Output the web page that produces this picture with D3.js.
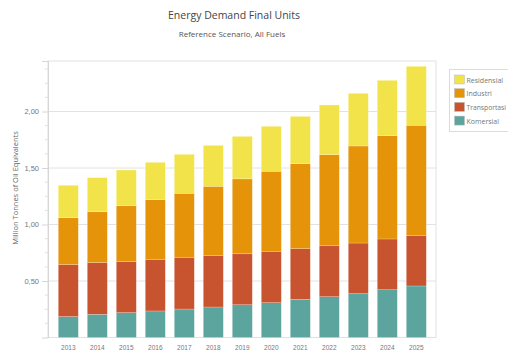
<!DOCTYPE html>
<html><head><meta charset="utf-8">
<script src="https://cdn.jsdelivr.net/npm/d3@7"></script>
<style>body{margin:0;background:#fff;} svg{display:block;font-family:"Open Sans","Noto Sans",sans-serif;}</style>
</head><body><svg id="c" width="508" height="352"></svg>
<script>
const years = ["2013","2014","2015","2016","2017","2018","2019","2020","2021","2022","2023","2024","2025"];
const seriesNames = ["Komersial","Transportasi","Industri","Residensial"];
const komersial    = [0.185,0.205,0.220,0.235,0.252,0.270,0.290,0.308,0.338,0.361,0.388,0.423,0.456];
const transportasi = [0.460,0.458,0.451,0.457,0.458,0.457,0.451,0.455,0.448,0.451,0.448,0.449,0.448];
const industri     = [0.415,0.450,0.495,0.528,0.566,0.611,0.663,0.708,0.752,0.806,0.859,0.914,0.974];
const residensial  = [0.287,0.301,0.316,0.330,0.345,0.362,0.376,0.398,0.419,0.440,0.466,0.490,0.522];
const yTicks = [0.5,1.0,1.5,2.0];
const colors = {Komersial:"#5ba59e",Transportasi:"#c8532f",Industri:"#e5940a",Residensial:"#f3e34a"};

const svg = d3.select("#c");
const plot = {l:48, t:61, r:436, b:337.5};
const x = d3.scaleBand().domain(years).range([53.8,430.8]).paddingInner(0.31).paddingOuter(0.155);
const y = d3.scaleLinear().domain([0,2.447]).range([plot.b, plot.t]);

const rows = years.map((yr,i)=>({year:yr,Komersial:komersial[i],Transportasi:transportasi[i],Industri:industri[i],Residensial:residensial[i]}));
const stack = d3.stack().keys(seriesNames)(rows);

// gridlines
svg.append("g").selectAll("line").data(yTicks).join("line")
  .attr("x1",plot.l).attr("x2",plot.r).attr("y1",d=>y(d)).attr("y2",d=>y(d))
  .attr("stroke","#e2e2e2").attr("stroke-width",1);
// border
svg.append("rect").attr("x",plot.l).attr("y",plot.t).attr("width",plot.r-plot.l).attr("height",plot.b-plot.t)
  .attr("fill","none").attr("stroke","#e2e2e2");

// bars
svg.append("g").selectAll("g").data(stack).join("g").attr("fill",d=>colors[d.key])
  .selectAll("rect").data(d=>d).join("rect")
  .attr("x",(d,i)=>x(years[i])).attr("width",x.bandwidth())
  .attr("y",d=>y(d[1])).attr("height",d=>y(d[0])-y(d[1]))
  .attr("stroke","#ffffff").attr("stroke-opacity",0.35).attr("stroke-width",0.6);

// y axis
const minor = d3.range(1,20).map(i=>i*0.125).filter(v=>v<2.44 && Math.abs(v*2-Math.round(v*2))>1e-6);
const yAxis = svg.append("g").attr("transform",`translate(${plot.l},0)`)
  .call(d3.axisLeft(y).tickValues(yTicks).tickSize(6).tickPadding(3).tickFormat(d=>d3.format(".2f")(d).replace(".",",")));
yAxis.select(".domain").attr("stroke","#d6d6d6");
yAxis.selectAll(".tick line").attr("stroke","#d6d6d6");
yAxis.selectAll("text").attr("fill","#777").attr("font-size","7.5px");
svg.append("g").selectAll("line").data(minor).join("line")
  .attr("x1",plot.l-3).attr("x2",plot.l).attr("y1",d=>y(d)).attr("y2",d=>y(d)).attr("stroke","#e0e0e0");

// x axis
const xAxis = svg.append("g").attr("transform",`translate(0,${plot.b})`)
  .call(d3.axisBottom(x).tickSize(0).tickPadding(8));
xAxis.select(".domain").remove();
xAxis.selectAll("text").attr("fill","#777").attr("font-size","6.5px");

// titles
svg.append("text").attr("x",234).attr("y",19).attr("text-anchor","middle").attr("font-size","10.5px").attr("fill","#444").text("Energy Demand Final Units");
svg.append("text").attr("x",232).attr("y",37).attr("text-anchor","middle").attr("font-size","8px").attr("fill","#555").text("Reference Scenario, All Fuels");
svg.append("text").attr("transform","translate(18,188) rotate(-90)").attr("text-anchor","middle").attr("font-size","7.5px").attr("fill","#666").text("Million Tonnes of Oil Equivalents");

// legend
const leg = svg.append("g");
leg.append("rect").attr("x",449.5).attr("y",69.5).attr("width",70).attr("height",62).attr("fill","#fff").attr("stroke","#dcdcdc");
const legOrder = ["Residensial","Industri","Transportasi","Komersial"];
const li = leg.selectAll("g.li").data(legOrder).join("g").attr("class","li")
  .attr("transform",(d,i)=>`translate(454.5,${75+i*13.7})`);
li.append("rect").attr("width",10).attr("height",9).attr("fill",d=>colors[d]).attr("stroke","#bbb").attr("stroke-width",0.5);
li.append("text").attr("x",12).attr("y",7.5).attr("font-size","7px").attr("fill","#777").text(d=>d)
  .each(function(){ if(this.getComputedTextLength()>39.5){ d3.select(this).attr("textLength",39.5).attr("lengthAdjust","spacingAndGlyphs"); } });
</script></body></html>
